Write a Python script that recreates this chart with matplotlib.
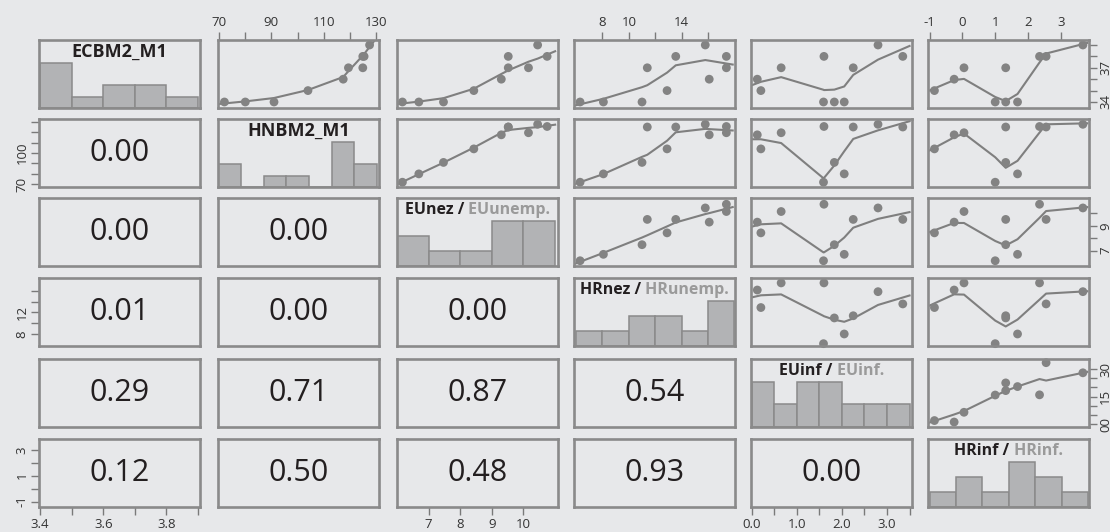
import numpy as np
import matplotlib
matplotlib.use("Agg")
import matplotlib.pyplot as plt
from matplotlib.transforms import offset_copy

# ---------------- data ----------------
ecbm2 = [3.4, 3.4, 3.4, 3.5, 3.6, 3.7, 3.8, 3.7, 3.9, 3.8]
hnbm2 = [72, 80, 91, 104, 117.5, 125, 125, 119.5, 127.6, 125.5]
eunez = [6.17, 6.69, 7.47, 8.43, 9.30, 9.52, 9.52, 10.16, 10.45, 10.75]
hrnez = [6.3, 8.07, 11.0, 12.9, 16.1, 11.4, 13.56, 17.4, 15.8, 17.4]
euinf = [1.59, 2.05, 1.83, 0.20, 0.12, 2.25, 3.35, 0.65, 2.8, 1.60]
hrinf = [1.0, 1.68, 1.32, -0.85, -0.25, 1.32, 2.55, 0.05, 3.67, 2.35]

label_main = ["ECBM2_M1", "HNBM2_M1", "EUnez /", "HRnez /", "EUinf /", "HRinf /"]
label_alt = ["", "", " EUunemp.", " HRunemp.", " EUinf.", " HRinf."]

hist_ecbm2 = [4, 1, 2, 2, 1]
hist_hnbm2 = [2, 0, 1, 1, 0, 4, 2]
hist_eunez = [2, 1, 1, 3, 3]
hist_hrnez = [1, 1, 2, 2, 1, 3]
hist_euinf = [2, 1, 2, 2, 1, 1, 1]
hist_hrinf = [1, 2, 1, 3, 2, 1]
hist_range = [(3.4, 3.9), (69.7, 130.5), (6, 11), (6, 18), (0, 3.5), (-1, 3.83)]

p_row2 = [0.00]
p_row3 = [0.00, 0.00]
p_row4 = [0.01, 0.00, 0.00]
p_row5 = [0.29, 0.71, 0.87, 0.54]
p_row6 = [0.12, 0.50, 0.48, 0.93, 0.00]

# axis ticks / labels
bottom_ticks = {0: (np.arange(3.4, 3.95, 0.1), {3.4: "3.4", 3.6: "3.6", 3.8: "3.8"}),
                2: ([7, 8, 9, 10], {7: "7", 8: "8", 9: "9", 10: "10"}),
                4: (np.arange(0, 3.55, 0.5), {0.0: "0.0", 1.0: "1.0", 2.0: "2.0", 3.0: "3.0"})}
top_ticks = {1: (np.arange(70, 131, 10), {70: "70", 90: "90", 110: "110", 130: "130"}),
             3: ([8, 10, 12, 14, 16], {8: "8", 10: "10", 14: "14"}),
             5: ([-1, 0, 1, 2, 3], {-1: "-1", 0: "0", 1: "1", 2: "2", 3: "3"})}
right_ticks = {0: (np.arange(3.4, 3.95, 0.1), {3.4: "34", 3.7: "37"}),
               2: ([7, 8, 9, 10], {7: "7", 9: "9"}),
               4: (np.arange(0, 3.05, 0.5), {0.0: "00", 1.5: "15", 3.0: "30"})}
left_ticks = {1: (np.arange(70, 131, 10), {70: "70", 100: "100"}),
              3: ([8, 10, 12, 14, 16], {8: "8", 12: "12"}),
              5: ([-1, 0, 1, 2, 3], {-1: "-1", 1: "1", 3: "3"})}

# ---------------- styling / layout ----------------
BG = "#e7e8ea"
FRAME = "#8a8a8a"
PT = "#838383"
LINE = "#7f7f7f"
BAR = "#b2b3b5"
GRAYTXT = "#9a9a9a"
TXT = "#231f20"
FONT = "Open Sans"

W, H = 1110, 532
col_left = [38, 217, 396, 573, 750, 927]
row_top = [39, 118, 197, 277, 358, 438]
PW, PH = 163, 70

x_lims = [(3.397, 3.906), (69.62, 131.13), (6.005, 11.088), (5.854, 18.04), (-0.015, 3.55), (-1.04, 3.85)]
y_lims = [(3.349, 3.942), (67.6, 132.5), (5.76, 11.24), (5.91, 18.26), (-0.14, 3.54), (-1.4, 3.82)]
EXT = 0.75  # how far the smooth is carried toward the panel edge

plt.rcParams['font.family'] = [FONT, 'DejaVu Sans']


def lowess_r(x, y, f=2 / 3, nsteps=3):
    x = np.asarray(x, float)
    y = np.asarray(y, float)
    o = np.argsort(x, kind='mergesort')
    x = x[o]
    y = y[o]
    n = len(x)
    rng = x[-1] - x[0]
    delta = 0.01 * rng
    ns = max(min(int(f * n + 1e-7), n), 2)
    ys = np.zeros(n)
    rw = np.ones(n)

    def lowest(xs, nleft, nright, userw):
        w = np.zeros(n)
        h = max(xs - x[nleft], x[nright] - xs)
        h9 = 0.999 * h
        h1 = 0.001 * h
        a = 0.0
        j = nleft
        while j < n:
            r = abs(x[j] - xs)
            if r <= h9:
                if r <= h1:
                    w[j] = 1.0
                else:
                    w[j] = (1 - (r / h) ** 3) ** 3
                if userw:
                    w[j] *= rw[j]
                a += w[j]
            elif x[j] > xs:
                break
            j += 1
        nrt = j - 1
        if a <= 0:
            return None
        sl = slice(nleft, nrt + 1)
        w[sl] /= a
        if h > 0:
            a2 = np.sum(w[sl] * x[sl])
            b = xs - a2
            c = np.sum(w[sl] * (x[sl] - a2) ** 2)
            if np.sqrt(c) > 0.001 * rng:
                b /= c
                w[sl] *= (b * (x[sl] - a2) + 1)
        return np.sum(w[sl] * y[sl])

    it = 1
    while it <= nsteps + 1:
        nleft, nright, last, i = 0, ns - 1, -1, 0
        while True:
            if nright < n - 1:
                d1 = x[i] - x[nleft]
                d2 = x[nright + 1] - x[i]
                if d1 > d2:
                    nleft += 1
                    nright += 1
                    continue
            v = lowest(x[i], nleft, nright, it > 1)
            ys[i] = y[i] if v is None else v
            if last < i - 1:
                denom = x[i] - x[last]
                for j in range(last + 1, i):
                    alpha = (x[j] - x[last]) / denom
                    ys[j] = alpha * ys[i] + (1 - alpha) * ys[last]
            last = i
            cut = x[last] + delta
            k = last + 1
            while k < n:
                if x[k] > cut:
                    break
                if x[k] == x[last]:
                    ys[k] = ys[last]
                    last = k
                k += 1
            i = max(last + 1, k - 1)
            if last >= n - 1:
                break
        res = y - ys
        sc = np.sum(np.abs(res)) / n
        if it > nsteps:
            break
        ar = np.abs(res)
        cmad = 6 * np.median(ar)
        if cmad < 1e-7 * sc:
            break
        c9, c1 = 0.999 * cmad, 0.001 * cmad
        rw = np.where(ar <= c1, 1.0, np.where(ar <= c9, (1 - (ar / cmad) ** 2) ** 2, 0.0))
        it += 1
    return x, ys


def extend(sx, sy, lo, hi):
    ux, idx = np.unique(sx, return_index=True)
    uy = sy[idx]
    if len(ux) < 2:
        return ux, uy
    xl = ux[0] - EXT * (ux[0] - lo)
    xr = ux[-1] + EXT * (hi - ux[-1])
    yl = uy[0] + (uy[1] - uy[0]) / (ux[1] - ux[0]) * (xl - ux[0])
    yr = uy[-1] + (uy[-1] - uy[-2]) / (ux[-1] - ux[-2]) * (xr - ux[-1])
    return np.r_[xl, ux, xr], np.r_[yl, uy, yr]


variables = [ecbm2, hnbm2, eunez, hrnez, euinf, hrinf]
hists = [hist_ecbm2, hist_hnbm2, hist_eunez, hist_hrnez, hist_euinf, hist_hrinf]
p_rows = [None, p_row2, p_row3, p_row4, p_row5, p_row6]
nv = len(variables)

fig = plt.figure(figsize=(W / 100, H / 100), dpi=100, facecolor=BG)
renderer = fig.canvas.get_renderer()

axes = {}
inset = 1.2
for i in range(nv):
    for j in range(nv):
        l = (col_left[j] + inset) / W
        b = 1 - (row_top[i] + PH - inset) / H
        ax = fig.add_axes([l, b, (PW - 2 * inset) / W, (PH - 2 * inset) / H])
        ax.set_facecolor(BG)
        for s in ax.spines.values():
            s.set_color(FRAME)
            s.set_linewidth(1.9)
            s.set_zorder(5)
        ax.set_xlim(*x_lims[j])
        ax.set_xticks([])
        ax.set_yticks([])
        axes[(i, j)] = ax

        if i == j:
            cnt = hists[i]
            lo, hi = hist_range[i]
            edges = np.linspace(lo, hi, len(cnt) + 1)
            ax.bar(edges[:-1], cnt, width=np.diff(edges), align='edge',
                   color=BAR, edgecolor=FRAME, linewidth=1.1, zorder=2)
            ax.set_ylim(0, 1.5 * max(cnt))
            size = 13.0 if label_alt[i] == "" else 11.5
            t1 = ax.text(0.5, 0.83, label_main[i], transform=ax.transAxes, fontsize=size,
                         fontweight='bold', color=TXT, ha='left', va='center', zorder=6)
            w1 = t1.get_window_extent(renderer).width
            w2 = 0
            t2 = None
            if label_alt[i]:
                t2 = ax.text(0.5, 0.83, label_alt[i], transform=ax.transAxes, fontsize=size,
                             fontweight='bold', color=GRAYTXT, ha='left', va='center', zorder=6)
                w2 = t2.get_window_extent(renderer).width
            tot = w1 + w2
            t1.set_transform(offset_copy(ax.transAxes, fig=fig, x=-tot / 2, y=0, units='dots'))
            if t2 is not None:
                t2.set_transform(offset_copy(ax.transAxes, fig=fig, x=-tot / 2 + w1, y=0, units='dots'))
        elif i < j:
            ax.set_ylim(*y_lims[i])
            xv, yv = variables[j], variables[i]
            ax.scatter(xv, yv, s=40, color=PT, edgecolors='none', zorder=3, clip_on=False)
            sx, sy = lowess_r(xv, yv)
            ex, ey = extend(sx, sy, *x_lims[j])
            ax.plot(ex, ey, color=LINE, lw=1.5, zorder=2, solid_joinstyle='round')
        else:
            ax.set_ylim(*y_lims[i])
            ax.text(0.5, 0.5, "%.2f" % p_rows[i][j], transform=ax.transAxes,
                    fontsize=22, color=TXT, ha='center', va='center')

tick_kw = dict(length=5.8, width=1.0, color="#7a7a7a", labelsize=9.5, labelcolor="#333333")

for j, (tk, labs) in bottom_ticks.items():
    ax = axes[(nv - 1, j)]
    ax.set_xticks(tk, [labs.get(round(float(t), 2), "") for t in tk])
    ax.tick_params(axis='x', bottom=True, labelbottom=True, pad=2, **tick_kw)
for j, (tk, labs) in top_ticks.items():
    ax = axes[(0, j)]
    ax.set_xticks(tk, [labs.get(round(float(t), 2), "") for t in tk])
    ax.tick_params(axis='x', top=True, labeltop=True, bottom=False, labelbottom=False, pad=2, **tick_kw)
for i, (tk, labs) in left_ticks.items():
    ax = axes[(i, 0)]
    ax.set_yticks(tk, [labs.get(round(float(t), 2), "") for t in tk])
    ax.tick_params(axis='y', left=True, labelleft=True, pad=2, labelrotation=90, **tick_kw)
    for t in ax.get_yticklabels():
        t.set_va('center')
for i, (tk, labs) in right_ticks.items():
    ax = axes[(i, nv - 1)]
    ax.set_yticks(tk, [labs.get(round(float(t), 2), "") for t in tk])
    ax.tick_params(axis='y', right=True, labelright=True, left=False, labelleft=False,
                   pad=1.5, labelrotation=90, **tick_kw)
    for t in ax.get_yticklabels():
        t.set_va('center')

fig.savefig("out.png", dpi=100, facecolor=BG)
